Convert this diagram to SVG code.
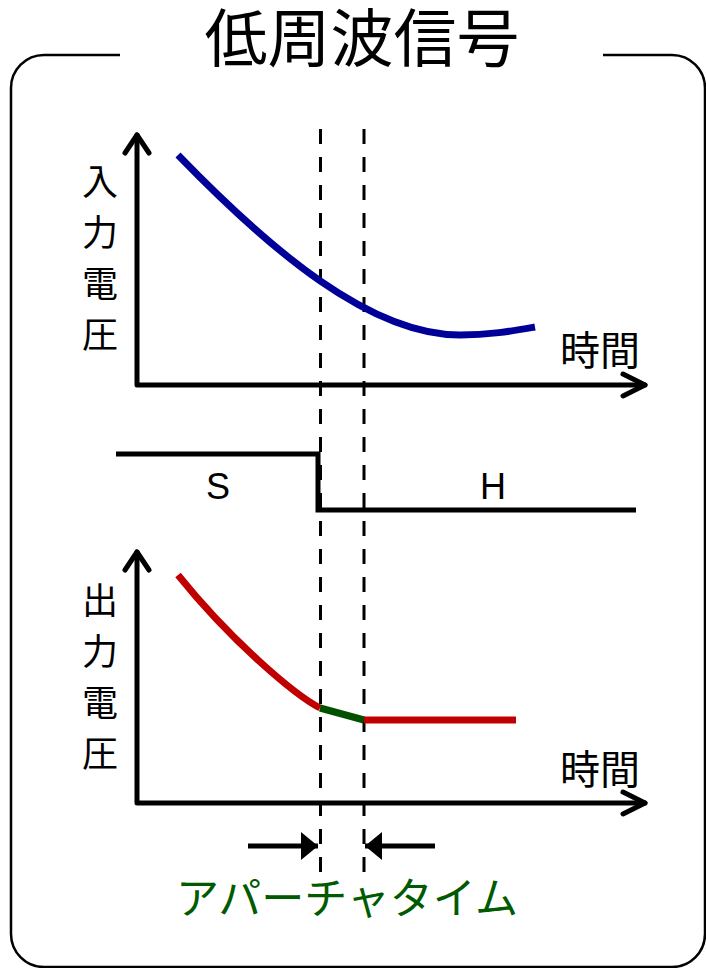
<svg xmlns="http://www.w3.org/2000/svg" width="706" height="968" viewBox="0 0 706 968">
<style>
.jp{font-family:"Noto Sans CJK JP","Noto Sans",sans-serif;fill:#000}
.lat{font-family:"Liberation Sans",Arial,sans-serif;fill:#000}
.axis{fill:none;stroke:#000;stroke-width:5;stroke-linecap:round;stroke-linejoin:round}
.dash{fill:none;stroke:#000;stroke-width:3;stroke-dasharray:15 13}
.vl{font-size:36px;text-anchor:middle}
</style>
<defs>
<marker id="tri" viewBox="0 0 17 28" refX="17" refY="14" markerWidth="17" markerHeight="28" markerUnits="userSpaceOnUse" orient="auto">
<path d="M0,0 L17,14 L0,28 Z" fill="#000"/>
</marker>
</defs>
<rect width="706" height="968" fill="#fff"/>
<g id="frame">
<path d="M120,55 H44 A33,33 0 0 0 11,88 V934 A33,33 0 0 0 44,967 H672 A33,33 0 0 0 705,934 V88 A33,33 0 0 0 672,55 H603" fill="none" stroke="#000" stroke-width="2.5"/>
<text class="jp" x="362" y="61" font-size="63" text-anchor="middle">低周波信号</text>
</g>
<g id="connectors">
<line class="dash" x1="320.5" y1="129" x2="320.5" y2="874"/>
<line class="dash" x1="364" y1="129" x2="364" y2="874"/>
<line x1="248" y1="846" x2="318" y2="846" stroke="#000" stroke-width="5" marker-end="url(#tri)"/>
<line x1="435" y1="846" x2="365" y2="846" stroke="#000" stroke-width="5" marker-end="url(#tri)"/>
</g>
<g id="input-graph">
<path class="axis" d="M137,135 V385 H645"/>
<path class="axis" d="M125,153 L137,135 L149,153"/>
<path class="axis" d="M623,374 L645,385 L623,396"/>
<path d="M178,155 C270,250 370,335 460,335 C490,335 512,331 535,327" fill="none" stroke="#000099" stroke-width="7"/>
<text class="jp vl" x="100" y="195">入</text>
<text class="jp vl" x="100" y="246">力</text>
<text class="jp vl" x="100" y="297">電</text>
<text class="jp vl" x="100" y="348">圧</text>
<text class="jp" x="600" y="365" font-size="40" text-anchor="middle">時間</text>
</g>
<g id="sample-hold">
<path d="M116,454 H318 V510 H636" fill="none" stroke="#000" stroke-width="5"/>
<text class="lat" x="218" y="499" font-size="36" text-anchor="middle">S</text>
<text class="lat" x="493" y="499" font-size="36" text-anchor="middle">H</text>
</g>
<g id="output-graph">
<path class="axis" d="M137,552 V803 H645"/>
<path class="axis" d="M125,570 L137,552 L149,570"/>
<path class="axis" d="M623,792 L645,803 L623,814"/>
<path d="M178,575 C232,642 295,695 320,708" fill="none" stroke="#C00000" stroke-width="7"/>
<path d="M320,708 L364,720" fill="none" stroke="#005000" stroke-width="7"/>
<path d="M364,720 H516" fill="none" stroke="#C00000" stroke-width="7"/>
<text class="jp vl" x="100" y="614">出</text>
<text class="jp vl" x="100" y="665">力</text>
<text class="jp vl" x="100" y="716">電</text>
<text class="jp vl" x="100" y="767">圧</text>
<text class="jp" x="600" y="784" font-size="40" text-anchor="middle">時間</text>
</g>
<g id="aperture-label">
<text class="jp" x="347" y="914" font-size="43" text-anchor="middle" style="fill:#005A00">アパーチャタイム</text>
</g>
</svg>
